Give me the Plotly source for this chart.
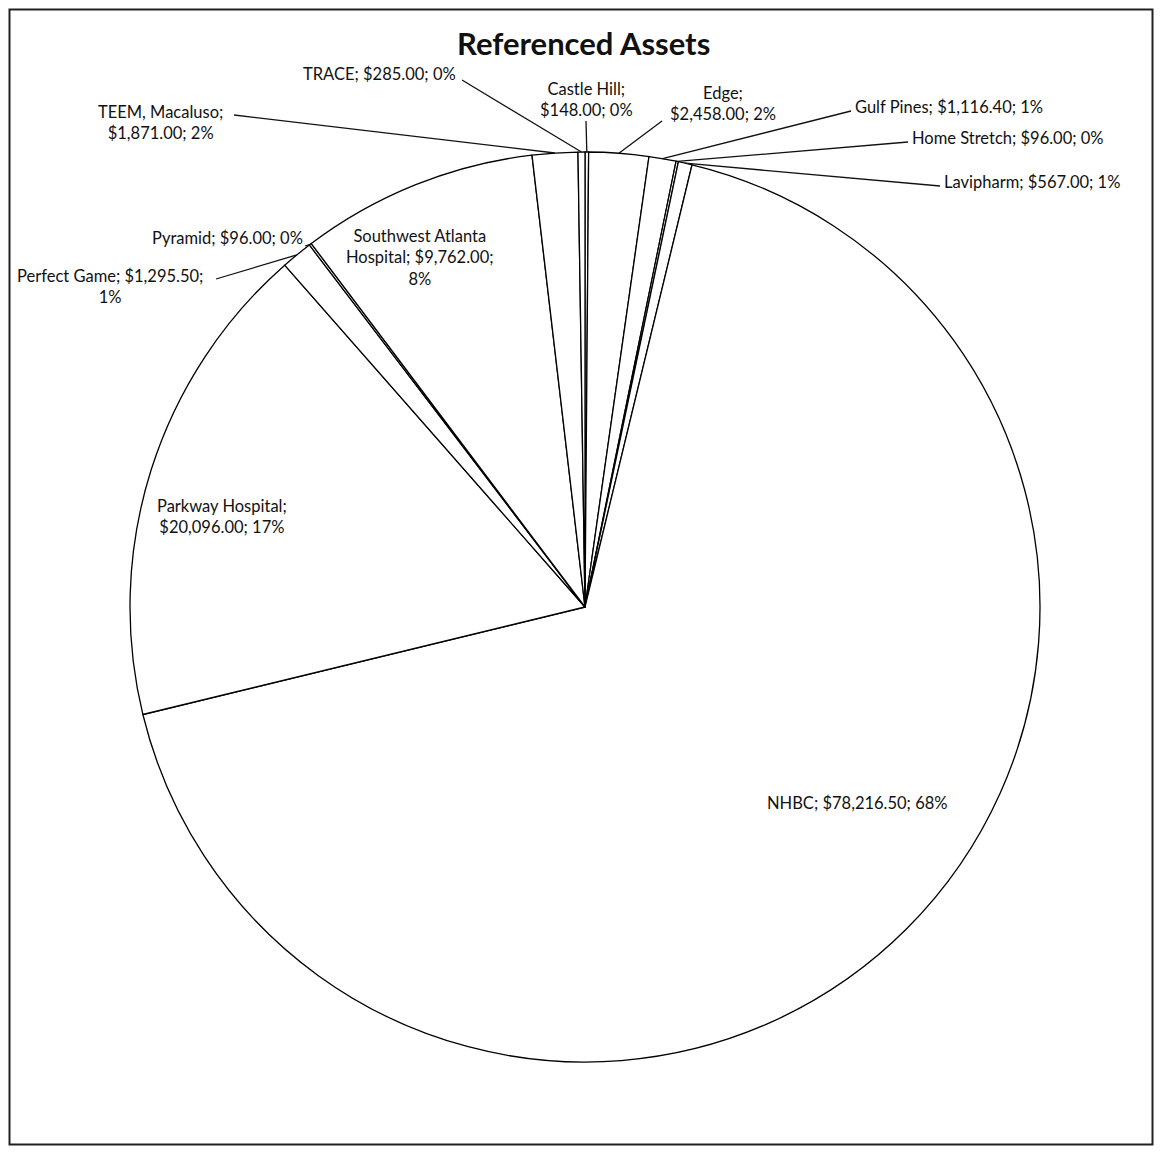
import math
import plotly.graph_objects as go

# ---- data ----
categories = ["Castle Hill", "Edge", "Gulf Pines", "Home Stretch", "Lavipharm", "NHBC",
              "Parkway Hospital", "Perfect Game", "Pyramid", "Southwest Atlanta Hospital",
              "TEEM, Macaluso", "TRACE"]
values = [148.00, 2458.00, 1116.40, 96.00, 567.00, 78216.50,
          20096.00, 1295.50, 96.00, 9762.00, 1871.00, 285.00]
value_labels = ["$148.00", "$2,458.00", "$1,116.40", "$96.00", "$567.00", "$78,216.50",
                "$20,096.00", "$1,295.50", "$96.00", "$9,762.00", "$1,871.00", "$285.00"]
pct_labels = ["0%", "2%", "1%", "0%", "1%", "68%", "17%", "1%", "0%", "8%", "2%", "0%"]

OFF = 8  # page body margin compensation
W, H = 1162 - 2 * OFF, 1154 - 2 * OFF   # keep inside the window (no scrollbars)
CX, CY, R = 585, 607, 455  # pie centre / radius in page px

# label layout: (text x px, text y px, anchor, leader start px or None, template)
label_layout = {
    "Castle Hill": (586, 99, "center", (586, 121), "Castle Hill;<br>{v}; {p}"),
    "Edge": (723, 103, "center", (662, 121), "Edge;<br>{v}; {p}"),
    "Gulf Pines": (853, 107, "left", (851, 111), "{c}; {v}; {p}"),
    "Home Stretch": (910, 138, "left", (908, 142), "{c}; {v}; {p}"),
    "Lavipharm": (942, 182, "left", (940, 186), "{c}; {v}; {p}"),
    "NHBC": (857, 803, "center", None, "{c}; {v}; {p}"),
    "Parkway Hospital": (222, 516, "center", None, "Parkway Hospital;<br>{v}; {p}"),
    "Perfect Game": (110, 286, "center", (216, 279), "Perfect Game; {v};<br>{p}"),
    "Pyramid": (305, 238, "right", (305, 246), "{c}; {v}; {p}"),
    "Southwest Atlanta Hospital": (420, 257, "center", None, "Southwest Atlanta<br>Hospital; {v};<br>{p}"),
    "TEEM, Macaluso": (160, 123, "center", (234, 115), "TEEM, Macaluso;<br>{v}; {p}"),
    "TRACE": (458, 74, "right", (462, 80), "{c}; {v}; {p}"),
}

FONT = "Lato, 'Open Sans', sans-serif"
TXT = "#111111"

fig = go.Figure(go.Pie(
    labels=categories,
    values=values,
    sort=False,
    direction="clockwise",
    rotation=0,
    textinfo="none",
    hoverinfo="label+value+percent",
    marker=dict(colors=["white"] * len(values), line=dict(color="black", width=1.3)),
    showlegend=False,
    domain=dict(x=[(CX - OFF - R) / W, (CX - OFF + R) / W],
                y=[(H - (CY - OFF) - R) / H, (H - (CY - OFF) + R) / H]),
))

def px2paper(x, y):
    return (x - OFF) / W, 1 - (y - OFF) / H

total = sum(values)
cum = 0.0
annotations = []
shapes = []
for cat, val, vl, pl in zip(categories, values, value_labels, pct_labels):
    mid = (cum + val / 2) / total * 2 * math.pi
    cum += val
    tipx = CX + R * math.sin(mid)
    tipy = CY - R * math.cos(mid)
    tx, ty, anchor, lead, tmpl = label_layout[cat]
    px_, py_ = px2paper(tx, ty)
    annotations.append(dict(
        x=px_, y=py_, xref="paper", yref="paper", text=tmpl.format(c=cat, v=vl, p=pl),
        showarrow=False, xanchor=anchor, yanchor="middle", align="center",
        font=dict(family=FONT, size=16.5, color=TXT),
    ))
    if lead is not None:
        x0, y0 = px2paper(*lead)
        x1, y1 = px2paper(tipx, tipy)
        shapes.append(dict(type="line", xref="paper", yref="paper",
                           x0=x0, y0=y0, x1=x1, y1=y1,
                           line=dict(color="#111", width=1.3)))

# outer frame (just inside the figure edges)
shapes.append(dict(type="rect", xref="paper", yref="paper",
                   x0=1.5 / W, y0=1.5 / H, x1=1 - 1.5 / W, y1=1 - 1.5 / H,
                   line=dict(color="#222", width=2)))

tx_, ty_ = px2paper(583, 43)
annotations.append(dict(
    x=tx_, y=ty_, xref="paper", yref="paper", text="<b>Referenced Assets</b>",
    showarrow=False, xanchor="center", yanchor="middle",
    font=dict(family=FONT, size=31, color="#111"),
))

fig.update_layout(
    width=W, height=H,
    margin=dict(l=0, r=0, t=0, b=0),
    paper_bgcolor="white", plot_bgcolor="white",
    annotations=annotations, shapes=shapes,
)

fig.write_html("out.html")
